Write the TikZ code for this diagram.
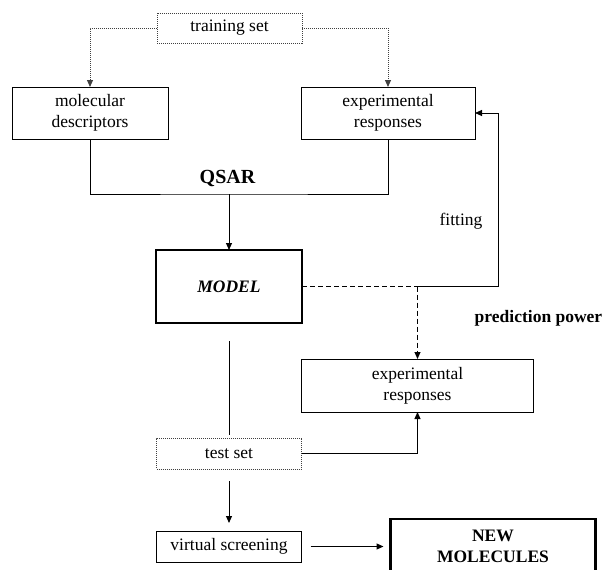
\documentclass[tikz,border=0pt]{standalone}
\usepackage{fontspec}
\setmainfont[Ligatures=TeX]{Liberation Serif}
\usetikzlibrary{positioning, arrows.meta}

\begin{document}
\begin{tikzpicture}[x=1pt, y=1pt,
  every node/.style={font=\rmfamily\fontsize{17.5}{21}\selectfont, align=center, inner sep=0pt, outer sep=0pt},
  box/.style={draw, line width=1pt, minimum width=145pt, minimum height=31pt},
  dotbox/.style={box, draw=black!75, densely dotted},
  thickbox/.style={draw, line width=2.6pt, font=\rmfamily\fontsize{17.5}{21}\selectfont\bfseries},
  arrow/.style={-{Triangle[length=7pt, width=6pt]}},
  dashline/.style={line width=1pt, dash pattern=on 5pt off 3pt},
  dotline/.style={arrow, draw=black!75, densely dotted, line width=1pt}]
\useasboundingbox (0,0) rectangle (603,-570);

\node[dotbox, minimum height=30pt] (train) at (229.5,-28) {training set};
\node[box, minimum width=156pt, minimum height=52pt] (desc) at (90,-113) {molecular\\descriptors};
\node[box, minimum width=174pt, minimum height=52pt, right=133pt of desc] (resp) {experimental\\responses};
\node[font=\rmfamily\fontsize{20}{24}\selectfont\bfseries] (qsar) at (227.5,-178) {QSAR};
\node[thickbox, minimum width=146pt, minimum height=73pt] (model) at (229,-286.5) {\textit{MODEL}};
\node (fit) at (461,-221) {fitting};
\node[font=\rmfamily\fontsize{17.5}{21}\selectfont\bfseries] (pred) at (538.5,-318) {prediction power};
\node[box, minimum width=232pt, minimum height=53pt] (resp2) at (417.5,-385.5) {experimental\\responses};
\node[dotbox, below=115pt of model] (test) {test set};
\node[box, below=62pt of test] (screen) {virtual screening};
\node[thickbox, minimum width=205pt, minimum height=55pt, right=89pt of screen] (newmol) {NEW\\MOLECULES};

\coordinate (join) at (229,-194);
\coordinate (split) at (model.east -| resp2.north);
\coordinate (corner) at (498,-286.5);

\draw[dotline] (train.west) -| (desc.north);
\draw[dotline] (train.east) -| (resp.north);
\draw[line width=1pt] (desc.south) |- (join) -| (resp.south);
\draw[arrow, line width=1pt] (join) -- (model.north);
\draw[dashline] (model.east) -- (split);
\draw[arrow, line width=1pt] (split) -- (corner) |- (resp.east);
\draw[arrow, dashline] (split) -- (resp2.north);
\draw[line width=1pt] ([yshift=-18pt]model.south) -- ([yshift=3pt]test.north);
\draw[arrow, line width=1pt] (test.east) -| (resp2.south);
\draw[arrow, line width=1pt] ([yshift=-12pt]test.south) -- ([yshift=8pt]screen.north);
\draw[arrow, line width=1pt] ([xshift=9pt]screen.east) -- ([xshift=-7pt]newmol.west);

\end{tikzpicture}
\end{document}
